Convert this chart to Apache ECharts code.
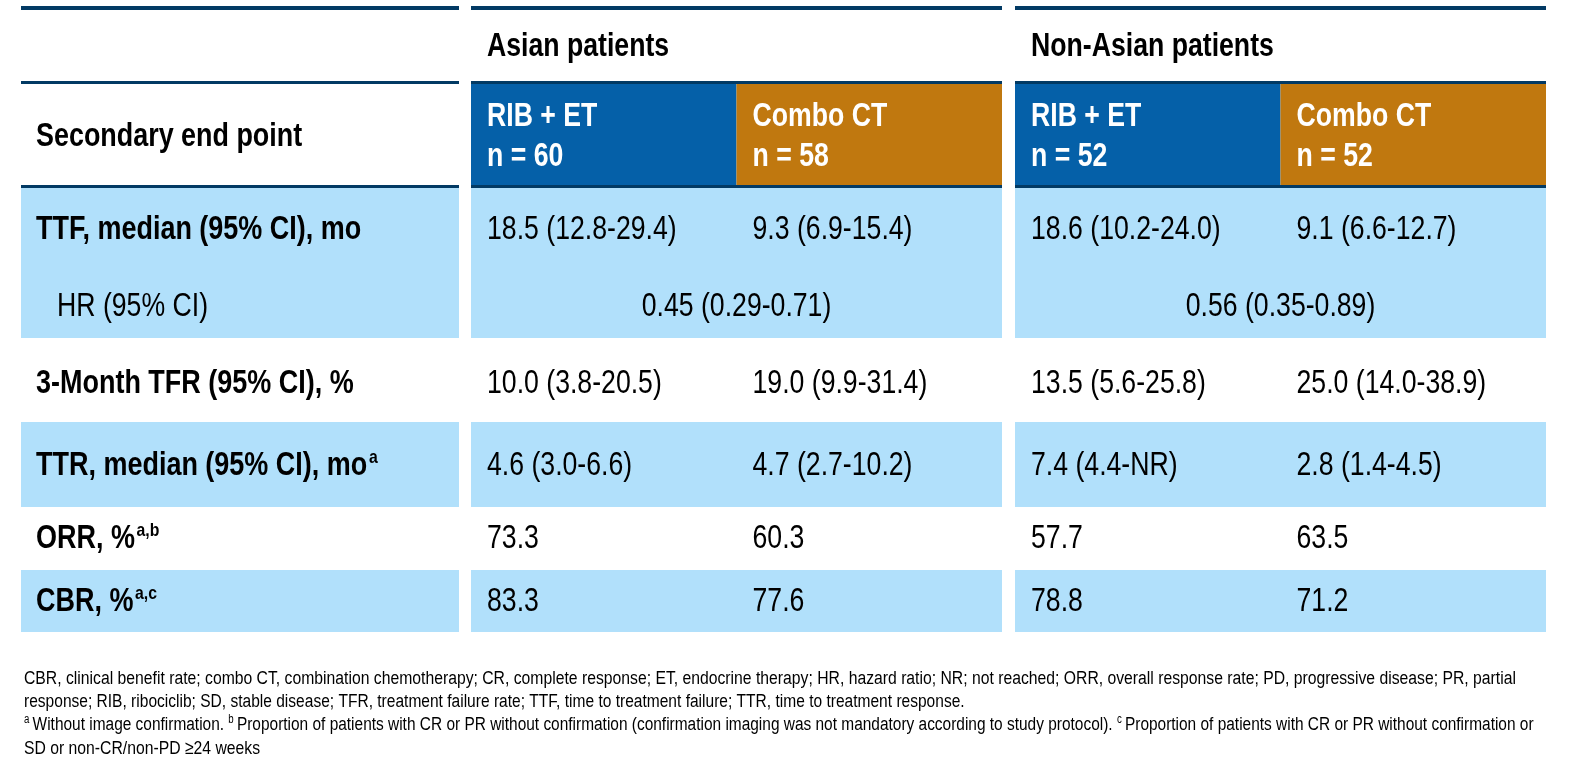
<!DOCTYPE html>
<html>
<head>
<meta charset="utf-8">
<script src="https://cdn.jsdelivr.net/npm/echarts@6/dist/echarts.min.js"></script>
<style>
html,body{margin:0;padding:0;background:#fff;}
#c{width:1587px;height:767px;}
</style>
</head>
<body>
<div id="c"></div>
<script>
// ---------- data ----------
const groups = ['Asian patients', 'Non-Asian patients'];
const arms = ['RIB + ET', 'Combo CT', 'RIB + ET', 'Combo CT'];
const armN = ['n = 60', 'n = 58', 'n = 52', 'n = 52'];
const headerLabel = 'Secondary end point';
const rowLabels = ['TTF, median (95% CI), mo', 'HR (95% CI)', '3-Month TFR (95% CI), %', 'TTR, median (95% CI), mo', 'ORR, %', 'CBR, %'];
const rowSup = ['', '', '', 'a', 'a,b', 'a,c'];
const rowBold = [true, false, true, true, true, true];
const ttfValues = ['18.5 (12.8-29.4)', '9.3 (6.9-15.4)', '18.6 (10.2-24.0)', '9.1 (6.6-12.7)'];
const hrValues = ['0.45 (0.29-0.71)', '0.56 (0.35-0.89)'];
const tfr3Values = ['10.0 (3.8-20.5)', '19.0 (9.9-31.4)', '13.5 (5.6-25.8)', '25.0 (14.0-38.9)'];
const ttrValues = ['4.6 (3.0-6.6)', '4.7 (2.7-10.2)', '7.4 (4.4-NR)', '2.8 (1.4-4.5)'];
const orrValues = ['73.3', '60.3', '57.7', '63.5'];
const cbrValues = ['83.3', '77.6', '78.8', '71.2'];
const footnoteLines = [
  [['', 'CBR, clinical benefit rate; combo CT, combination chemotherapy; CR, complete response; ET, endocrine therapy; HR, hazard ratio; NR; not reached; ORR, overall response rate; PD, progressive disease; PR, partial']],
  [['', 'response; RIB, ribociclib; SD, stable disease; TFR, treatment failure rate; TTF, time to treatment failure; TTR, time to treatment response.']],
  [['s', 'a'], ['', 'Without image confirmation. '], ['s', 'b'], ['', 'Proportion of patients with CR or PR without confirmation (confirmation imaging was not mandatory according to study protocol). '], ['s', 'c'], ['', 'Proportion of patients with CR or PR without confirmation or']],
  [['', 'SD or non-CR/non-PD \u226524 weeks']]
];

// ---------- layout / style ----------
const FONT = '"Liberation Sans", Arial, sans-serif';
const FS = 32.5;
const NARROW = 0.82;
const C_LINE = '#023a64';
const C_BLUE = '#0560a8';
const C_ORANGE = '#c0780f';
const C_BAND = '#b1e0fb';
const leftCol = [21, 459];
const groupCols = [[471, 1002], [1015, 1546]];
const bands = [[188, 338], [422, 507], [570, 632]];
const rowY = [230, 307, 384, 466, 539, 602];
const PAD = 16;

function armCol(i) {
  const g = groupCols[Math.floor(i / 2)];
  const half = (g[1] - g[0]) / 2;
  const x0 = g[0] + (i % 2) * half;
  return [x0, x0 + half];
}

const els = [];
function rect(x0, y0, x1, y1, fill) {
  els.push({ type: 'rect', silent: true, shape: { x: x0, y: y0, width: x1 - x0, height: y1 - y0 }, style: { fill: fill } });
}
function text(x, y, str, opts) {
  opts = opts || {};
  els.push({
    type: 'text', silent: true, x: x, y: y,
    scaleX: opts.sx || NARROW, scaleY: 1,
    style: {
      text: str,
      fontFamily: FONT,
      fontSize: opts.size || FS,
      fontWeight: opts.bold ? 'bold' : 'normal',
      fill: opts.color || '#000',
      align: opts.align || 'left',
      verticalAlign: 'middle',
      rich: opts.rich
    }
  });
}

const blocks = [leftCol].concat(groupCols);
// top rules
blocks.forEach(b => rect(b[0], 6, b[1], 10, C_LINE));
blocks.forEach(b => rect(b[0], 81, b[1], 84, C_LINE));
// header boxes
arms.forEach((a, i) => { const c = armCol(i); rect(c[0], 84, c[1], 185, i % 2 === 0 ? C_BLUE : C_ORANGE); });
blocks.forEach(b => rect(b[0], 185, b[1], 188, C_LINE));
// bands
bands.forEach(bd => blocks.forEach(b => rect(b[0], bd[0], b[1], bd[1], C_BAND)));

// header texts
groups.forEach((g, i) => text(groupCols[i][0] + PAD, 47, g, { bold: true }));
text(leftCol[0] + 15, 137, headerLabel, { bold: true, sx: 0.828 });
arms.forEach((a, i) => {
  const c = armCol(i);
  text(c[0] + PAD, 117, a, { bold: true, color: '#fff' });
  text(c[0] + PAD, 157, armN[i], { bold: true, color: '#fff' });
});

// row labels
const supRich = {
  m: { fontFamily: FONT, fontSize: FS, fontWeight: 'bold', fill: '#000', lineHeight: 36 },
  s: { fontFamily: FONT, fontSize: 19, fontWeight: 'bold', fill: '#000', lineHeight: 36, verticalAlign: 'top', padding: [0, 0, 16, 2] }
};
rowLabels.forEach((lab, r) => {
  const x = leftCol[0] + (rowBold[r] ? 15 : 36);
  if (rowSup[r]) {
    text(x, rowY[r], '{m|' + lab + '}{s|' + rowSup[r] + '}', { bold: true, rich: supRich, sx: 0.83 });
  } else {
    text(x, rowY[r], lab, { bold: rowBold[r], sx: rowBold[r] ? 0.83 : NARROW });
  }
});

// values
const valueRows = [[0, ttfValues], [2, tfr3Values], [3, ttrValues], [4, orrValues], [5, cbrValues]];
valueRows.forEach(vr => {
  vr[1].forEach((v, i) => { const c = armCol(i); text(c[0] + PAD, rowY[vr[0]], v); });
});
hrValues.forEach((v, g) => text((groupCols[g][0] + groupCols[g][1]) / 2, rowY[1], v, { align: 'center' }));

// footnotes
const FN = 19.2;
const fnRich = {
  n: { fontFamily: FONT, fontSize: FN, fill: '#000', lineHeight: 22 },
  s: { fontFamily: FONT, fontSize: 12, fill: '#000', lineHeight: 22, verticalAlign: 'top', padding: [0, 4, 9, 0] }
};
const fnY = [678.5, 701.5, 725, 748.5];
const fnScale = [0.82, 0.81, 0.805, 0.82];
footnoteLines.forEach((line, k) => {
  const str = line.map(t => '{' + (t[0] || 'n') + '|' + t[1] + '}').join('');
  text(24, fnY[k], str, { size: FN, rich: fnRich, sx: fnScale[k] });
});

const chart = echarts.init(document.getElementById('c'), null, { renderer: 'canvas' });
chart.setOption({ animation: false, backgroundColor: '#fff', graphic: { elements: els } });
</script>
</body>
</html>
